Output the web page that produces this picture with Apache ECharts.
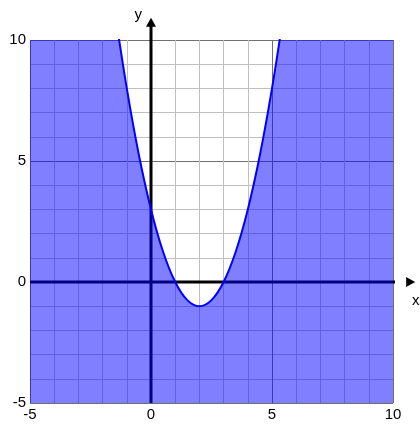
<!DOCTYPE html>
<html>
<head>
<meta charset="utf-8">
<script src="https://cdn.jsdelivr.net/npm/echarts@6/dist/echarts.min.js"></script>
<style>
    html, body { margin: 0; padding: 0; background: #fff; }
    #chart1 { width: 420px; height: 424px; }
</style>
</head>
<body>
<div id="chart1"></div>
<script>
// points (vertex 2,-1; roots 1 and 3; crosses y axis at 3)
var curveX = [-5, -4, -3, -2, -1.5, -1, -0.5, 0, 0.5, 1, 1.5, 2, 2.5, 3, 3.5, 4, 4.5, 5, 5.5, 6, 7, 8, 9, 10];
var curveY = [48, 35, 24, 15, 11.25, 8, 5.25, 3, 1.25, 0, -0.75, -1, -0.75, 0, 1.25, 3, 5.25, 8, 11.25, 15, 24, 35, 48, 63];
var axisMin = -5, axisMax = 10;
var tickLabels = [-5, 0, 5, 10];

var chart1 = echarts.init(document.getElementById('chart1'));

var curveData = [];
for (var i = 0; i < curveX.length; i++) {
    curveData.push([curveX[i], curveY[i]]);
}

var gridColors = ['#707070', '#c0c0c0', '#c0c0c0', '#c0c0c0', '#c0c0c0'];
var labelStyle = {
    color: '#000',
    fontSize: 15,
    fontFamily: 'Liberation Sans, Arial, sans-serif',
    formatter: function (v) {
        return tickLabels.indexOf(v) >= 0 ? String(v) : '';
    }
};

function makeAxis(margin) {
    return {
        type: 'value',
        min: axisMin,
        max: axisMax,
        interval: 1,
        axisLine: { show: false },
        axisTick: { show: false },
        axisLabel: Object.assign({ margin: margin, showMinLabel: true, showMaxLabel: true }, labelStyle),
        splitLine: { show: true, lineStyle: { color: gridColors, width: 1 } }
    };
}

var arrowEnd = 10.73;

var option = {
    animation: false,
    grid: { left: 30, top: 40, width: 363, height: 363 },
    xAxis: makeAxis(4),
    yAxis: makeAxis(4),
    series: [{
        // y axis line with arrow
        type: 'line',
        z: 2,
        clip: false,
        symbol: 'none',
        lineStyle: { color: '#000', width: 3 },
        data: [[0, axisMin], {
            value: [0, arrowEnd],
            symbol: 'triangle',
            symbolSize: [10, 9],
            itemStyle: { color: '#000' },
            label: {
                show: true, formatter: 'y', position: 'left', distance: 4,
                offset: [0, -7], fontSize: 15, color: '#000',
                fontFamily: 'Liberation Sans, Arial, sans-serif'
            }
        }]
    }, {
        // x axis line with arrow
        type: 'line',
        z: 2,
        clip: false,
        symbol: 'none',
        lineStyle: { color: '#000', width: 3 },
        data: [[axisMin, 0], {
            value: [arrowEnd, 0],
            symbol: 'triangle',
            symbolRotate: -90,
            symbolSize: [10, 9],
            itemStyle: { color: '#000' },
            label: {
                show: true, formatter: 'x', position: 'bottom', distance: 6,
                offset: [5, 0], fontSize: 15, color: '#000',
                fontFamily: 'Liberation Sans, Arial, sans-serif'
            }
        }]
    }, {
        // shaded region below the curve
        type: 'line',
        z: 4,
        clip: true,
        symbol: 'none',
        smooth: 0.34,
        lineStyle: { width: 0 },
        areaStyle: { color: 'rgba(0,0,255,0.5)', origin: 'start', opacity: 1 },
        data: curveData
    }, {
        // boundary curve
        type: 'line',
        z: 5,
        clip: true,
        symbol: 'none',
        smooth: 0.34,
        lineStyle: { color: '#0000ff', width: 2 },
        data: curveData
    }]
};
chart1.setOption(option, true);
</script>
</body>
</html>
